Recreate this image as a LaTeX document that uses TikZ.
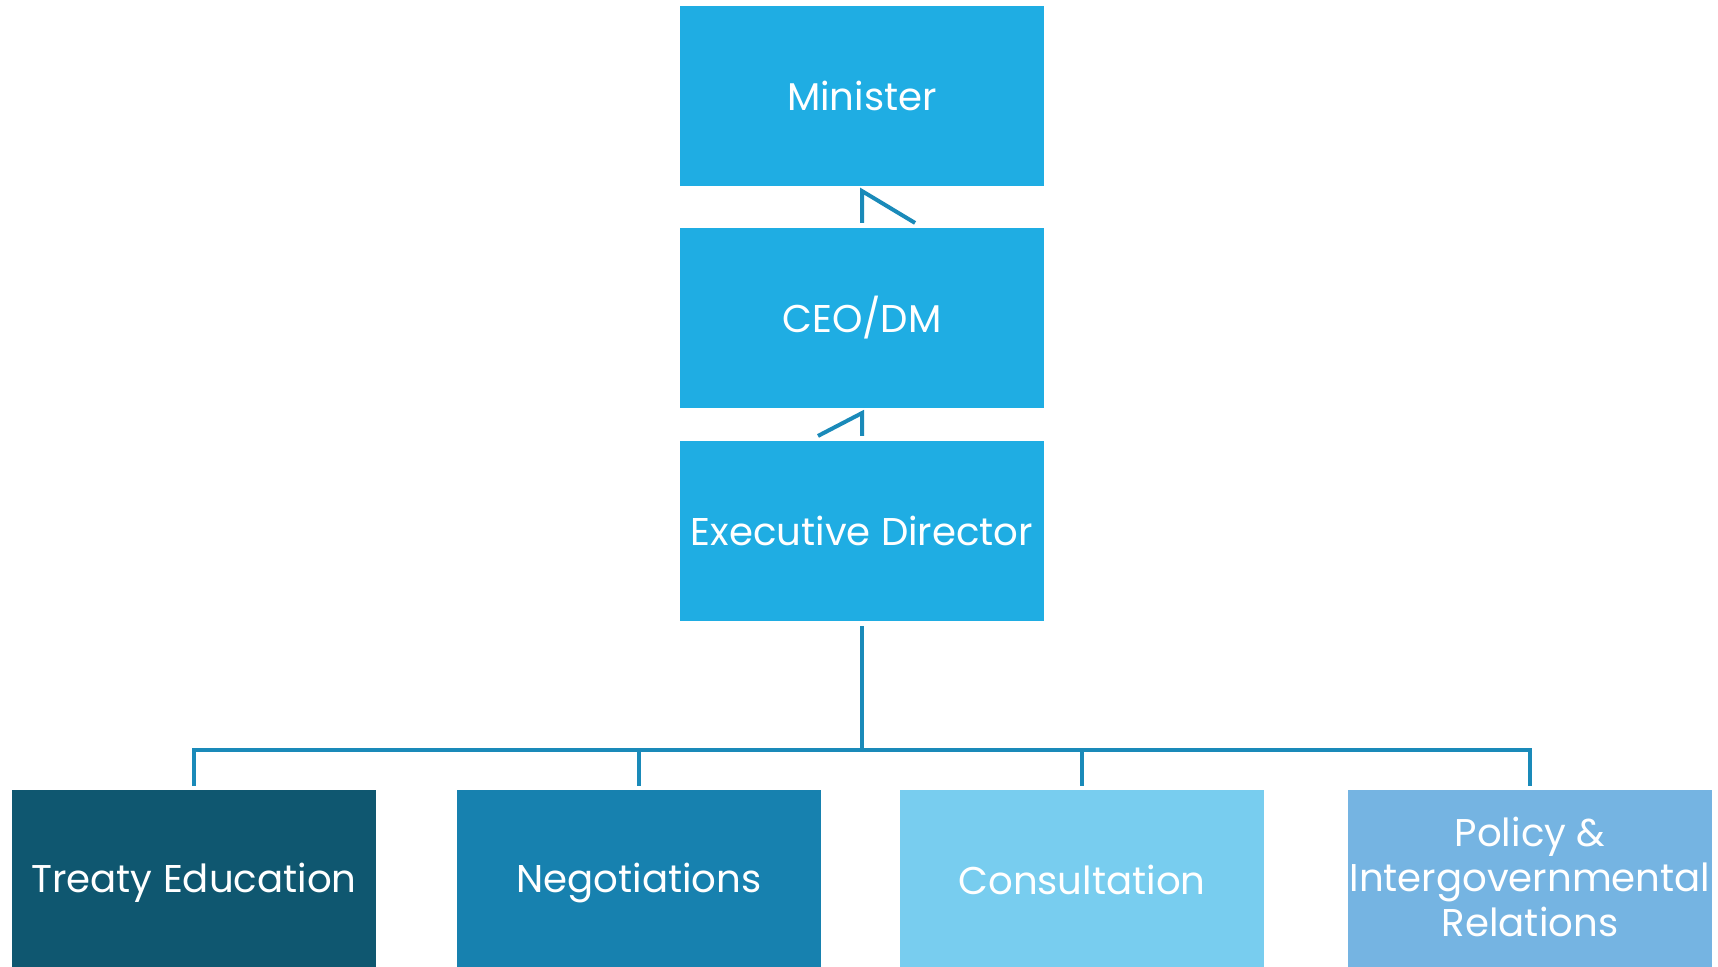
\documentclass[tikz,border=0pt]{standalone}
\usepackage{fontspec}
\setmainfont{Poppins}
\definecolor{topblue}{HTML}{1FADE3}
\definecolor{treatyblue}{HTML}{0F5770}
\definecolor{negotblue}{HTML}{1781AF}
\definecolor{consultblue}{HTML}{78CDEF}
\definecolor{policyblue}{HTML}{75B4E2}
\definecolor{linkblue}{HTML}{1A8AB9}
\newcommand{\boxstrut}{\rule[-2pt]{0pt}{12pt}}

\begin{document}
\begin{tikzpicture}[x=0.01cm,y=-0.01cm,
    box/.style={rectangle,inner sep=0pt,outer sep=0pt,minimum width=3.64cm,minimum height=1.8cm,
      text=white,align=center,font=\fontsize{11}{12.8}\selectfont,
      execute at begin node=\boxstrut,execute at end node=\boxstrut},
    link/.style={draw=linkblue,line width=0.04cm}]
  \useasboundingbox (0,0) rectangle (1718,967);

  %top chain
  \node[box,fill=topblue] (minister) at (862,96) {Minister};
  \node[box,fill=topblue] (ceo) at (862,318) {CEO/DM};
  \node[box,fill=topblue] (exec) at (862,531) {Executive Director};

  %units
  \node[box,fill=treatyblue] (treaty) at (194,880) {Treaty Education};
  \node[box,fill=negotblue] (negot) at (639,880) {Negotiations};
  \node[box,fill=consultblue] (consult) at (1082,880) {Consultation};
  \node[box,fill=policyblue] (policy) at (1530,880) {Policy \&\\Intergovernmental\\Relations};

  %links between the top boxes
  \draw[link] ([yshift=0.05cm]ceo.north) -- ([yshift=-0.05cm]minister.south) -- ([xshift=0.53cm,yshift=0.05cm]ceo.north);
  \draw[link] ([yshift=0.05cm]exec.north) -- ([yshift=-0.05cm]ceo.south) -- ([xshift=-0.44cm,yshift=0.05cm]exec.north);

  %tree to the units
  \coordinate (bus) at (862,750);
  \draw[link] ([yshift=-0.05cm]exec.south) -- (bus);
  \draw[link,line cap=rect] (bus -| treaty.north) -- (bus -| policy.north);
  \foreach \unit in {treaty,negot,consult,policy}
    \draw[link] (bus -| \unit.north) -- ([yshift=0.04cm]\unit.north);
\end{tikzpicture}
\end{document}
